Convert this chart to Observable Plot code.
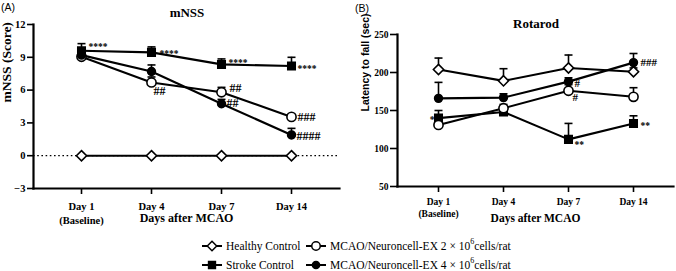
<!DOCTYPE html>
<html><head><meta charset="utf-8">
<script src="https://cdn.jsdelivr.net/npm/d3@7"></script>
<script src="https://cdn.jsdelivr.net/npm/@observablehq/plot@0.6"></script>
<style>
body{margin:0;background:#fff;}
#wrap{position:relative;width:676px;height:271px;background:#fff;overflow:hidden;font-family:"Liberation Serif",serif;color:#000;}
.abs{position:absolute;white-space:nowrap;line-height:1;}
.panel{position:absolute;top:0;}
.panel text{font-family:"Liberation Serif",serif;}
.panel .sans text{font-family:"Liberation Sans",sans-serif;}
.leg{position:absolute;white-space:nowrap;font-family:"Liberation Serif",serif;font-size:11.5px;line-height:12px;display:flex;align-items:center;}
.leg svg{margin-right:3px;}
.leg sup{font-size:8px;line-height:0;position:relative;top:-1px;}
</style></head><body><div id="wrap"></div>
<script>
// ---- data ----
const days = ["Day 1", "Day 4", "Day 7", "Day 14"];
const dayTickLabels = ["Day 1\n(Baseline)", "Day 4", "Day 7", "Day 14"];
const groups = ["Healthy Control", "Stroke Control", "MCAO/Neuroncell-EX 2 × 10⁶cells/rat", "MCAO/Neuroncell-EX 4 × 10⁶cells/rat"];

// (A) mNSS
const mnssTitle = "mNSS";
const mnssYLabel = "mNSS (Score)";
const mnssTicks = [-3, 0, 3, 6, 9, 12];
const mnssHealthy = [0, 0, 0, 0];
const mnssHealthyErr = [0, 0, 0, 0];
const mnssStroke = [9.6, 9.45, 8.35, 8.2];
const mnssStrokeErr = [0.65, 0.5, 0.5, 0.8];
const mnssLow = [9.05, 6.7, 5.8, 3.55];
const mnssLowErr = [0.3, 0.5, 0.45, 0.2];
const mnssHigh = [9.2, 7.7, 4.75, 1.9];
const mnssHighErr = [0.3, 0.6, 0.4, 0.6];
const mnssAnnoText = ["****", "****", "****", "****", "##", "##", "##", "###", "####"];
const mnssAnnoGroup = [1, 1, 1, 1, 2, 2, 3, 2, 3];
const mnssAnnoDay = [0, 1, 2, 3, 1, 2, 2, 3, 3];

// (B) Rotarod
const rotTitle = "Rotarod";
const rotYLabel = "Latency to fall (sec)";
const rotTicks = [50, 100, 150, 200, 250];
const rotHealthy = [204, 189, 206, 201];
const rotHealthyErr = [15, 16, 17, 5];
const rotStroke = [140, 148, 112, 133];
const rotStrokeErr = [10, 4, 21, 10];
const rotLow = [131, 153, 176, 168];
const rotLowErr = [5, 5, 8, 12];
const rotHigh = [166, 167, 188, 213];
const rotHighErr = [21, 5, 5, 12];
const rotAnnoText = ["*", "**", "**", "#", "#", "###"];
const rotAnnoGroup = [1, 1, 1, 3, 2, 3];
const rotAnnoDay = [0, 2, 3, 2, 2, 3];

const xLabel = "Days after MCAO";

// ---- styling (not data) ----
const groupStyle = [
  {symbol: "diamond2", fill: "white", r: 4.6},
  {symbol: "square", fill: "black", r: 4.2},
  {symbol: "circle", fill: "white", r: 4.6},
  {symbol: "circle", fill: "black", r: 3.9}
];
const mnssAnnoStyle = [
  {dx: 7, dy: -4}, {dx: 8, dy: 1.5}, {dx: 7, dy: -1}, {dx: 6, dy: 3},
  {dx: 2, dy: 9}, {dx: 8, dy: -4}, {dx: 5, dy: -1}, {dx: 6, dy: 0}, {dx: 5, dy: 1}
];
const rotAnnoStyle = [
  {dx: -4, dy: 2, anchor: "end"}, {dx: 6, dy: 6}, {dx: 7, dy: 3},
  {dx: 6, dy: 2}, {dx: 4, dy: 7}, {dx: 7, dy: 0}
];
const capSymbol = {draw(ctx) { ctx.moveTo(-4, 0); ctx.lineTo(4, 0); }};

function rows(series, errs) {
  const out = [];
  series.forEach((vals, g) => vals.forEach((v, i) => out.push({group: groups[g], gi: g, day: days[i], value: v, err: errs[g][i]})));
  return out;
}
function annos(text, grp, day, series, style) {
  return text.map((t, k) => ({text: t, day: days[day[k]], value: series[grp[k]][day[k]], ...style[k]}));
}

function panel(cfg) {
  const data = rows(cfg.series, cfg.errs);
  const an = annos(cfg.annoText, cfg.annoGroup, cfg.annoDay, cfg.series, cfg.annoStyle);
  const marks = [];
  if (cfg.zeroLine) marks.push(Plot.ruleY([0], {strokeDasharray: "1.6,2.6", strokeWidth: 1.3}));
  marks.push(
    Plot.axisY({ticks: cfg.ticks, tickSize: cfg.yTickSize, tickPadding: 2, strokeWidth: 1.6, fontSize: cfg.tickFont, fontWeight: "bold", label: null}),
    Plot.axisX({tickSize: 6, tickPadding: cfg.xTickPad, strokeWidth: 1.6, fontSize: cfg.tickFont, fontWeight: "bold", lineHeight: cfg.lineHeight,
      tickFormat: d => dayTickLabels[days.indexOf(d)], label: null}),
    Plot.frame({anchor: "left", strokeWidth: 2.2}),
    Plot.frame({anchor: "bottom", strokeWidth: 2.2}),
    Plot.ruleX(data.filter(d => d.err > 0), {x: "day", y1: "value", y2: d => d.value + d.err, strokeWidth: 1.6}),
    Plot.dot(data.filter(d => d.err > 0), {x: "day", y: d => d.value + d.err, symbol: capSymbol, r: 4, fill: "none", stroke: "black", strokeWidth: 1.6}),
    Plot.line(data, {x: "day", y: "value", z: "group", stroke: "black", strokeWidth: 2.1})
  );
  [0, 1, 2, 3].forEach(g => {
    const s = groupStyle[g];
    marks.push(Plot.dot(data.filter(d => d.gi === g), {x: "day", y: "value", symbol: s.symbol, r: s.r, fill: s.fill, stroke: "black", strokeWidth: 1.6}));
  });
  an.forEach(a => {
    marks.push(Plot.text([a], {x: "day", y: "value", text: "text", dx: a.dx, dy: a.dy, textAnchor: a.anchor || "start",
      fontSize: a.text.includes("*") ? cfg.starFont : cfg.hashFont, fontWeight: "bold"}));
  });
  marks.push(
    Plot.text([cfg.xLabel], {frameAnchor: "bottom", dy: cfg.xLabelDy, fontSize: cfg.xLabelFont, fontWeight: "bold"}),
    Plot.text([cfg.yLabel], {frameAnchor: "left", rotate: -90, dx: cfg.yLabelDx, dy: cfg.yLabelDy, fontSize: cfg.yLabelFont, fontWeight: "bold", className: cfg.yLabelClass})
  );
  return Plot.plot({
    width: cfg.width, height: cfg.height,
    marginLeft: cfg.ml, marginRight: cfg.mr, marginTop: cfg.mt, marginBottom: cfg.mb,
    style: {fontFamily: "Liberation Serif, serif", fontSize: "10.5px", background: "transparent", overflow: "visible", color: "black"},
    x: {type: "point", domain: days, padding: cfg.pad},
    y: {domain: cfg.yDomain},
    marks
  });
}

const wrap = document.getElementById("wrap");

const pA = panel({
  series: [mnssHealthy, mnssStroke, mnssLow, mnssHigh],
  errs: [mnssHealthyErr, mnssStrokeErr, mnssLowErr, mnssHighErr],
  annoText: mnssAnnoText, annoGroup: mnssAnnoGroup, annoDay: mnssAnnoDay, annoStyle: mnssAnnoStyle,
  ticks: mnssTicks, yDomain: [-3, 12], zeroLine: true,
  width: 340, height: 232, ml: 33, mr: 1, mt: 24, mb: 44, pad: 0.66,
  yTickSize: 6, xTickPad: 5, tickFont: 10.5, lineHeight: 1.35,
  starFont: 9.5, hashFont: 12,
  xLabel, xLabelDy: 33, xLabelFont: 12,
  yLabel: mnssYLabel, yLabelDx: -27, yLabelDy: -4, yLabelFont: 13.5, yLabelClass: "serif"
});
const pB = panel({
  series: [rotHealthy, rotStroke, rotLow, rotHigh],
  errs: [rotHealthyErr, rotStrokeErr, rotLowErr, rotHighErr],
  annoText: rotAnnoText, annoGroup: rotAnnoGroup, annoDay: rotAnnoDay, annoStyle: rotAnnoStyle,
  ticks: rotTicks, yDomain: [50, 250], zeroLine: false,
  width: 336, height: 232, ml: 57, mr: 3, mt: 34, mb: 46, pad: 0.62,
  yTickSize: 7, xTickPad: 3, tickFont: 9.5, lineHeight: 1.35,
  starFont: 9.5, hashFont: 11,
  xLabel, xLabelDy: 35, xLabelFont: 11.5,
  yLabel: rotYLabel, yLabelDx: -32, yLabelDy: 1, yLabelFont: 10.5, yLabelClass: "sans"
});
pA.classList.add("panel"); pA.style.left = "0px";
pB.classList.add("panel"); pB.style.left = "340px";
wrap.appendChild(pA); wrap.appendChild(pB);

function addText(txt, left, top, css) {
  const d = document.createElement("div");
  d.className = "abs"; d.textContent = txt;
  d.style.left = left + "px"; d.style.top = top + "px";
  Object.assign(d.style, css || {});
  wrap.appendChild(d);
  return d;
}
addText("(A)", 1, 2, {fontFamily: "'Liberation Sans',sans-serif", fontSize: "10.5px"});
addText("(B)", 355, 3, {fontFamily: "'Liberation Sans',sans-serif", fontSize: "10.5px"});
addText(mnssTitle, 187, 5.5, {fontSize: "13px", fontWeight: "bold", transform: "translateX(-50%)"});
addText(rotTitle, 536, 16.5, {fontSize: "13px", fontWeight: "bold", transform: "translateX(-50%)"});

// legend
function swatch(g) {
  const s = groupStyle[g];
  const sym = d3.symbol(s.symbol === "diamond2" ? d3.symbolDiamond2 : s.symbol === "square" ? d3.symbolSquare : d3.symbolCircle, Math.PI * s.r * s.r * 0.85)();
  return `<svg width="22" height="12" viewBox="-11 -6 22 12"><line x1="-10" x2="10" y1="0" y2="0" stroke="black" stroke-width="2"/><path d="${sym}" fill="${s.fill}" stroke="black" stroke-width="1.5"/></svg>`;
}
const legendPos = [[201, 240], [201, 258.5], [305, 240], [305, 258.5]];
groups.forEach((g, i) => {
  const d = document.createElement("div");
  d.className = "leg";
  d.style.left = legendPos[i][0] + "px"; d.style.top = legendPos[i][1] + "px";
  d.innerHTML = swatch(i) + `<span>${g.replace("⁶", "<sup>6</sup>")}</span>`;
  wrap.appendChild(d);
});
</script></body></html>
